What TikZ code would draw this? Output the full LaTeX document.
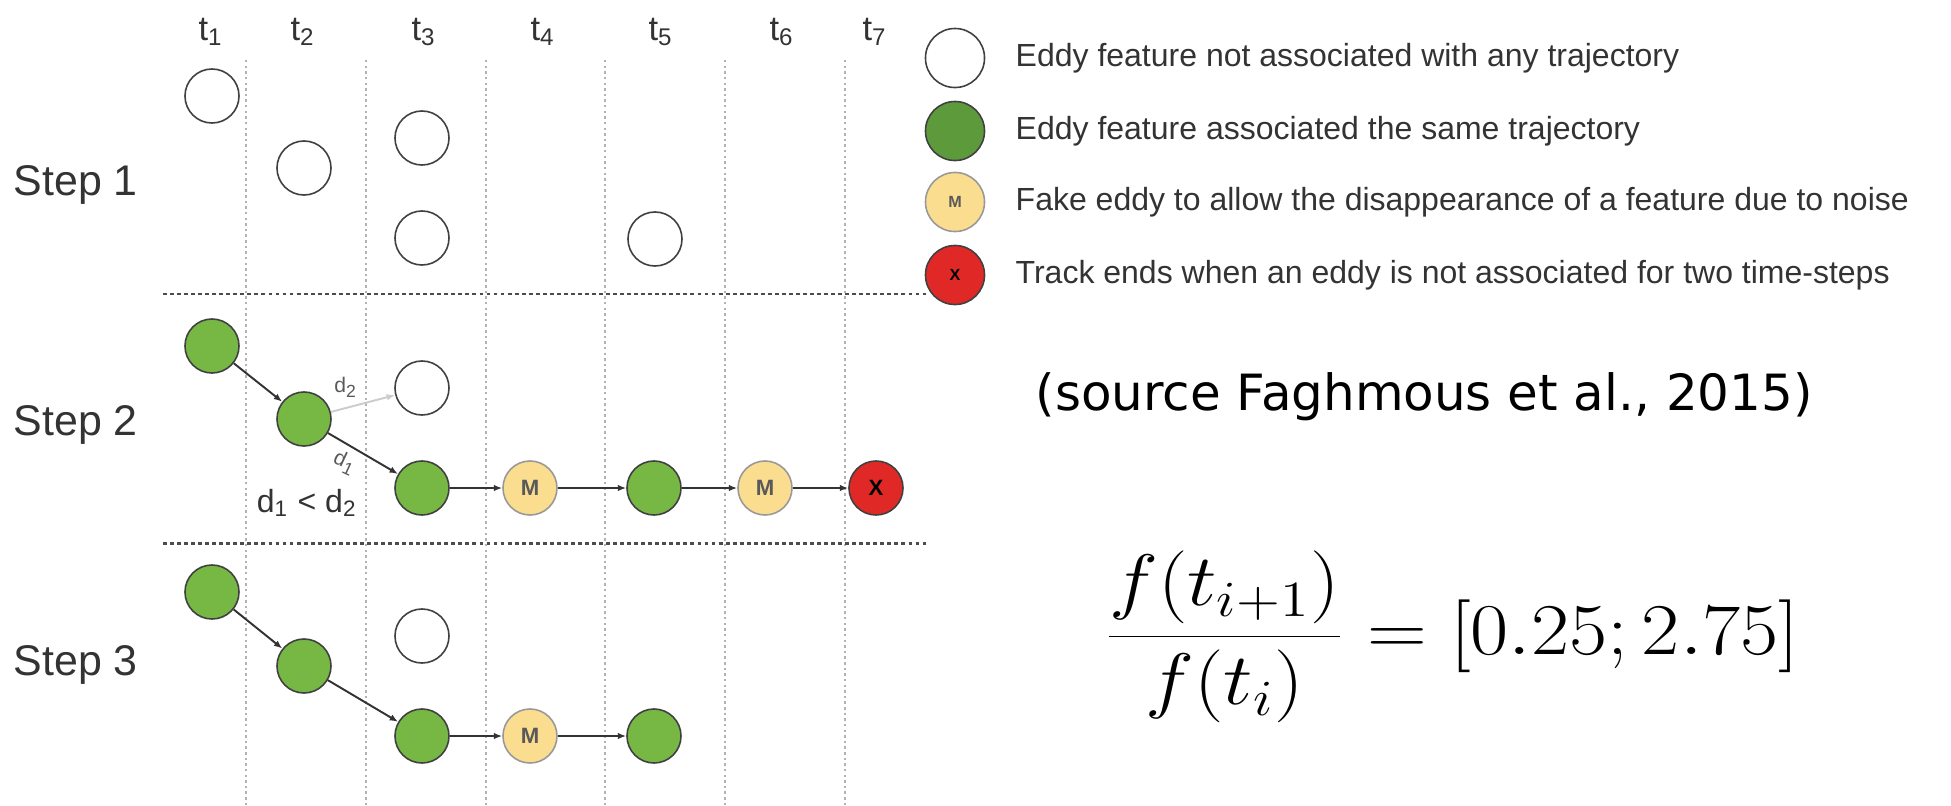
\documentclass[tikz,border=0pt]{standalone}
\usepackage[no-math]{fontspec}
\setmainfont{Liberation Sans}
\newfontfamily\dejavu{DejaVu Sans}
\usetikzlibrary{arrows.meta}
\definecolor{eddygreen}{HTML}{77B844}
\definecolor{legendgreen}{HTML}{5D9A3B}
\definecolor{fakeyellow}{HTML}{FBDD90}
\definecolor{endred}{HTML}{E02926}
\definecolor{txtgray}{HTML}{333333}
\begin{document}
\begin{tikzpicture}[x=0.01cm,y=-0.01cm,
  every node/.style={inner sep=0pt, text=txtgray},
  circ/.style={circle, minimum size=0.54cm, line width=0.45pt, draw=black!75},
  eddy/.style={circ, fill=white},
  assoc/.style={circ, fill=eddygreen},
  fake/.style={circ, fill=fakeyellow, draw=black!40, text=black!65, font=\bfseries\fontsize{6.3}{7}\selectfont},
  endx/.style={circ, fill=endred, text=black, font=\bfseries\fontsize{6.3}{7}\selectfont},
  lgc/.style={minimum size=0.59cm},
  arr/.style={-{Latex[length=2.4pt,width=1.9pt]}, line width=0.55pt, draw=black!80},
  grayarr/.style={arr, draw=black!20},
  vline/.style={draw=black!30, line width=0.35pt, dash pattern=on 0.7pt off 0.9pt},
  hline/.style={draw=black!70, line width=0.85pt, dash pattern=on 1.1pt off 0.9pt},
  tlab/.style={font=\fontsize{9.8}{11}\selectfont},
  stepl/.style={anchor=west, font=\fontsize{12.2}{14}\selectfont},
  legtext/.style={anchor=west, font=\fontsize{9.1}{10}\selectfont},
  dlab/.style={font=\fontsize{6}{7}\selectfont, text=black!65}
]
\useasboundingbox (0,0) rectangle (1951,806);

% grid lines
\foreach \x in {246,366,486,605,725,845} \draw[vline] (\x,60) -- (\x,806);
\draw[hline] (163,294) -- (928,294);
\draw[hline] (163,543) -- (928,543);

% time labels
\node[tlab] (t1) at (211,32) {t\textsubscript{1}};
\node[tlab] (t2) at (303,32) {t\textsubscript{2}};
\node[tlab] (t3) at (424,32) {t\textsubscript{3}};
\node[tlab] (t4) at (543,32) {t\textsubscript{4}};
\node[tlab] (t5) at (661,32) {t\textsubscript{5}};
\node[tlab] (t6) at (782,32) {t\textsubscript{6}};
\node[tlab] (t7) at (875,32) {t\textsubscript{7}};

% step labels
\node[stepl] (s1) at (13,185) {Step 1};
\node[stepl] (s2) at (13,425) {Step 2};
\node[stepl] (s3) at (13,665) {Step 3};

% Step 1
\node[eddy] (a1) at (212,96) {};
\node[eddy] (a2) at (304,168) {};
\node[eddy] (a3) at (422,138) {};
\node[eddy] (a4) at (422,238) {};
\node[eddy] (a5) at (655,239) {};

% Step 2
\node[assoc] (b1) at (212,346) {};
\node[assoc] (b2) at (304,419) {};
\node[eddy]  (b3) at (422,388) {};
\node[assoc] (b4) at (422,488) {};
\node[fake]  (b5) at (530,488) {M};
\node[assoc] (b6) at (654,488) {};
\node[fake]  (b7) at (765,488) {M};
\node[endx]  (b8) at (876,488) {X};
\draw[arr] (b1) -- (b2);
\draw[grayarr] (b2) -- (b3);
\draw[arr] (b2) -- (b4);
\draw[arr] (b4) -- (b5);
\draw[arr] (b5) -- (b6);
\draw[arr] (b6) -- (b7);
\draw[arr] (b7) -- (b8);
\node[dlab] (d2) at (346,387) {d\textsubscript{2}};
\node[dlab, rotate=-25] (d1) at (345,463) {d\textsubscript{1}};
\node[font=\fontsize{9.1}{10}\selectfont] (cmp) at (307,503) {d\textsubscript{1} < d\textsubscript{2}};

% Step 3
\node[assoc] (c1) at (212,592) {};
\node[assoc] (c2) at (304,666) {};
\node[eddy]  (c3) at (422,636) {};
\node[assoc] (c4) at (422,736) {};
\node[fake]  (c5) at (530,736) {M};
\node[assoc] (c6) at (654,736) {};
\draw[arr] (c1) -- (c2);
\draw[arr] (c2) -- (c4);
\draw[arr] (c4) -- (c5);
\draw[arr] (c5) -- (c6);

% legend
\node[eddy, lgc] (l1) at (955,58) {};
\node[assoc, lgc, fill=legendgreen] (l2) at (955,131) {};
\node[fake, lgc, font=\bfseries\fontsize{4.6}{5}\selectfont] (l3) at (955,202) {M};
\node[endx, lgc, font=\bfseries\fontsize{4.6}{5}\selectfont] (l4) at (955,275) {X};
\node[legtext] (lt1) at (1015,58) {Eddy feature not associated with any trajectory};
\node[legtext] (lt2) at (1015,131) {Eddy feature associated the same trajectory};
\node[legtext] (lt3) at (1015,202) {Fake eddy to allow the disappearance of a feature due to noise};
\node[legtext] (lt4) at (1015,275) {Track ends when an eddy is not associated for two time-steps};

% source
\node[anchor=west, font=\dejavu\fontsize{14.2}{17}\selectfont, text=black] (src) at (1035,397) {(source Faghmous et al., 2015)};

% formula
\node[text=black, font=\fontsize{21}{25}\selectfont, xscale=1.137, transform shape] (formula) at (1452,637) {$\displaystyle\frac{f(t_{i+1})}{f(t_i)} = [0.25; 2.75]$};
\end{tikzpicture}
\end{document}
